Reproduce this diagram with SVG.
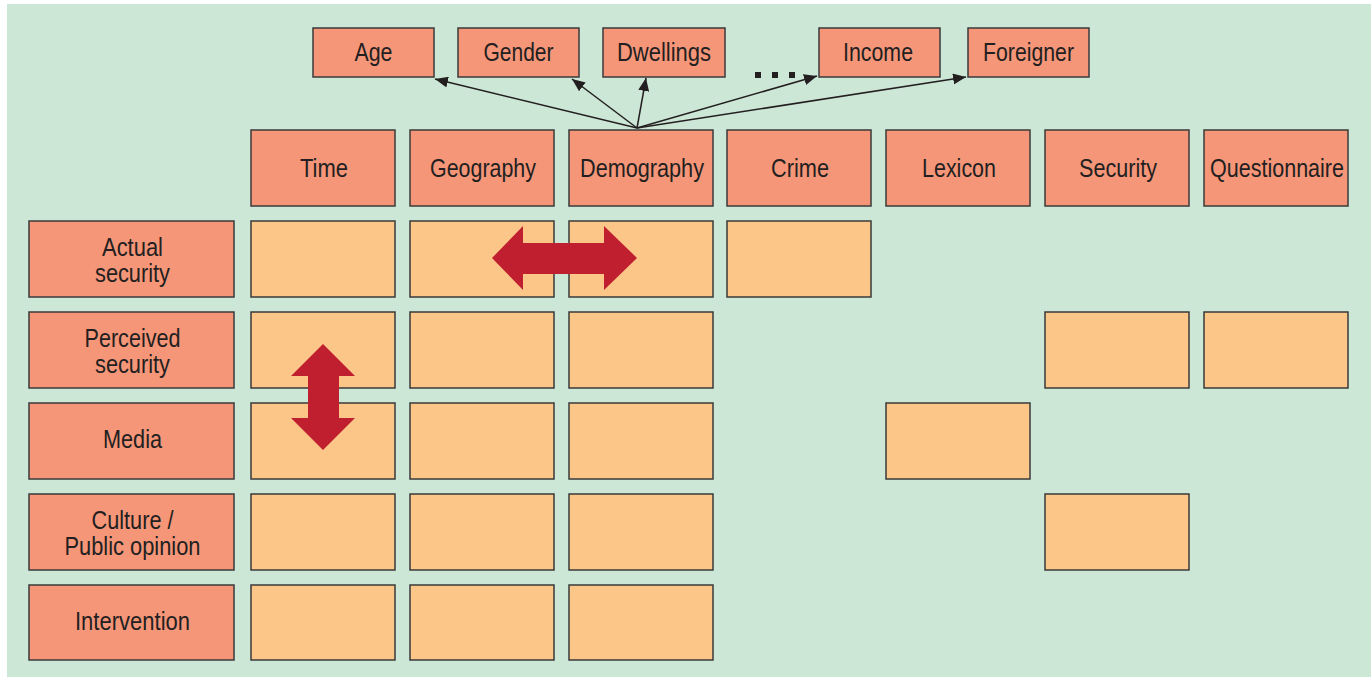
<svg xmlns="http://www.w3.org/2000/svg" width="1371" height="677" viewBox="0 0 1371 677">
<defs>
<style>
.bg{fill:#cde7d7}
.h{fill:#f59679;stroke:#3a3a3a;stroke-width:1.5}
.c{fill:#fcc688;stroke:#3a3a3a;stroke-width:1.5}
.t{font-family:"Liberation Sans",Arial,sans-serif;font-size:25px;fill:#231f20;text-anchor:middle}
.ln{stroke:#231f20;stroke-width:1.5;fill:none;marker-end:url(#ah)}
.red{fill:#c01f2f}
</style>
<marker id="ah" viewBox="0 0 13 11" refX="13" refY="5.5" markerWidth="13" markerHeight="11" markerUnits="userSpaceOnUse" orient="auto">
<path d="M0,0 L13,5.5 L0,11 z" fill="#231f20"/>
</marker>
</defs>
<rect x="0" y="0" width="1371" height="677" fill="#ffffff"/>
<rect class="bg" x="7" y="4" width="1364" height="673"/>

<g id="connectors">
<line class="ln" x1="637" y1="128" x2="435" y2="79"/>
<line class="ln" x1="637" y1="128" x2="572" y2="79"/>
<line class="ln" x1="637" y1="128" x2="646" y2="78"/>
<line class="ln" x1="637" y1="128" x2="817" y2="76"/>
<line class="ln" x1="637" y1="128" x2="966" y2="77"/>
</g>

<g id="ellipsis">
<rect x="755" y="72" width="6" height="6" fill="#231f20"/>
<rect x="772" y="72" width="6" height="6" fill="#231f20"/>
<rect x="789" y="72" width="6" height="6" fill="#231f20"/>
</g>

<g id="n-age"><rect class="h" x="313" y="28" width="121" height="49"/><text class="t" x="373.5" y="61" textLength="38" lengthAdjust="spacingAndGlyphs">Age</text></g>
<g id="n-gender"><rect class="h" x="458" y="28" width="121" height="49"/><text class="t" x="518.5" y="61" textLength="70" lengthAdjust="spacingAndGlyphs">Gender</text></g>
<g id="n-dwellings"><rect class="h" x="603" y="28" width="122" height="49"/><text class="t" x="664" y="61" textLength="94" lengthAdjust="spacingAndGlyphs">Dwellings</text></g>
<g id="n-income"><rect class="h" x="819" y="28" width="121" height="49"/><text class="t" x="878" y="61" textLength="70" lengthAdjust="spacingAndGlyphs">Income</text></g>
<g id="n-foreigner"><rect class="h" x="968" y="28" width="121" height="49"/><text class="t" x="1028.5" y="61" textLength="91" lengthAdjust="spacingAndGlyphs">Foreigner</text></g>

<g id="col-time"><rect class="h" x="251" y="130" width="144" height="76"/><text class="t" x="324" y="177" textLength="48" lengthAdjust="spacingAndGlyphs">Time</text></g>
<g id="col-geography"><rect class="h" x="410" y="130" width="144" height="76"/><text class="t" x="483" y="177" textLength="106" lengthAdjust="spacingAndGlyphs">Geography</text></g>
<g id="col-demography"><rect class="h" x="569" y="130" width="144" height="76"/><text class="t" x="642" y="177" textLength="124" lengthAdjust="spacingAndGlyphs">Demography</text></g>
<g id="col-crime"><rect class="h" x="727" y="130" width="144" height="76"/><text class="t" x="800" y="177" textLength="58" lengthAdjust="spacingAndGlyphs">Crime</text></g>
<g id="col-lexicon"><rect class="h" x="886" y="130" width="144" height="76"/><text class="t" x="959" y="177" textLength="74" lengthAdjust="spacingAndGlyphs">Lexicon</text></g>
<g id="col-security"><rect class="h" x="1045" y="130" width="144" height="76"/><text class="t" x="1118" y="177" textLength="78" lengthAdjust="spacingAndGlyphs">Security</text></g>
<g id="col-questionnaire"><rect class="h" x="1204" y="130" width="144" height="76"/><text class="t" x="1277" y="177" textLength="134" lengthAdjust="spacingAndGlyphs">Questionnaire</text></g>

<g id="row-actual"><rect class="h" x="29" y="221" width="205" height="76"/><text class="t" x="132.5" y="256" textLength="61" lengthAdjust="spacingAndGlyphs">Actual</text><text class="t" x="132.5" y="282" textLength="75" lengthAdjust="spacingAndGlyphs">security</text></g>
<g id="row-perceived"><rect class="h" x="29" y="312" width="205" height="76"/><text class="t" x="132.5" y="347" textLength="96" lengthAdjust="spacingAndGlyphs">Perceived</text><text class="t" x="132.5" y="373" textLength="75" lengthAdjust="spacingAndGlyphs">security</text></g>
<g id="row-media"><rect class="h" x="29" y="403" width="205" height="76"/><text class="t" x="132.5" y="448" textLength="59" lengthAdjust="spacingAndGlyphs">Media</text></g>
<g id="row-culture"><rect class="h" x="29" y="494" width="205" height="76"/><text class="t" x="132.5" y="529" textLength="82" lengthAdjust="spacingAndGlyphs">Culture /</text><text class="t" x="132.5" y="555" textLength="136" lengthAdjust="spacingAndGlyphs">Public opinion</text></g>
<g id="row-intervention"><rect class="h" x="29" y="585" width="205" height="75"/><text class="t" x="132.5" y="630" textLength="115" lengthAdjust="spacingAndGlyphs">Intervention</text></g>

<g id="cells">
<rect class="c" x="251" y="221" width="144" height="76"/>
<rect class="c" x="410" y="221" width="144" height="76"/>
<rect class="c" x="569" y="221" width="144" height="76"/>
<rect class="c" x="727" y="221" width="144" height="76"/>

<rect class="c" x="251" y="312" width="144" height="76"/>
<rect class="c" x="410" y="312" width="144" height="76"/>
<rect class="c" x="569" y="312" width="144" height="76"/>
<rect class="c" x="1045" y="312" width="144" height="76"/>
<rect class="c" x="1204" y="312" width="144" height="76"/>

<rect class="c" x="251" y="403" width="144" height="76"/>
<rect class="c" x="410" y="403" width="144" height="76"/>
<rect class="c" x="569" y="403" width="144" height="76"/>
<rect class="c" x="886" y="403" width="144" height="76"/>

<rect class="c" x="251" y="494" width="144" height="76"/>
<rect class="c" x="410" y="494" width="144" height="76"/>
<rect class="c" x="569" y="494" width="144" height="76"/>
<rect class="c" x="1045" y="494" width="144" height="76"/>

<rect class="c" x="251" y="585" width="144" height="75"/>
<rect class="c" x="410" y="585" width="144" height="75"/>
<rect class="c" x="569" y="585" width="144" height="75"/>
</g>

<g id="arrow-h">
<path class="red" d="M492,258 L523,226 L523,243 L604,243 L604,226 L637,258 L604,290 L604,274 L523,274 L523,290 Z"/>
</g>
<g id="arrow-v">
<path class="red" d="M323,344 L355,376 L339,376 L339,418 L355,418 L323,450 L291,418 L308,418 L308,376 L291,376 Z"/>
</g>
</svg>
